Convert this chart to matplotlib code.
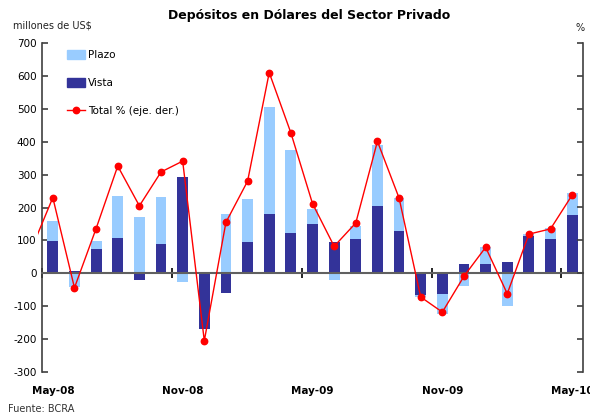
import numpy as np
import matplotlib
matplotlib.use("Agg")
import matplotlib.pyplot as plt
from matplotlib.patches import Patch
from matplotlib.lines import Line2D

months = ["May-08", "Jun-08", "Jul-08", "Aug-08", "Sep-08", "Oct-08", "Nov-08",
          "Dec-08", "Jan-09", "Feb-09", "Mar-09", "Apr-09", "May-09", "Jun-09",
          "Jul-09", "Aug-09", "Sep-09", "Oct-09", "Nov-09", "Dec-09", "Jan-10",
          "Feb-10", "Mar-10", "Apr-10", "May-10"]
# millones de US$
vista = [97, 8, 73, 106, -21, 88, 292, -170, -60, 95, 179, 121, 149, 94, 103,
         204, 128, -65, -64, 27, 27, 33, 112, 103, 176]
plazo = [63, -41, 24, 128, 170, 143, -26, 0, 179, 130, 326, 253, 45, -20, 40,
         185, 100, -7, -59, -38, 52, -99, 6, 34, 67]
# variacion total % (eje derecho), first value is Apr-08
total_pct = [0.72, 2.30, -0.44, 1.36, 3.26, 2.05, 3.08, 3.41, -2.05, 1.55, 2.80,
             6.10, 4.27, 2.12, 0.82, 1.53, 4.01, 2.29, -0.72, -1.18, -0.09, 0.79,
             -0.62, 1.19, 1.35, 2.38]

LIGHT = "#99ccff"
DARK = "#333399"
RED = "#ff0000"
AXC = "#404040"

plt.rcParams["font.family"] = ["DejaVu Sans"]
plt.rcParams["axes.unicode_minus"] = False

fig = plt.figure(figsize=(5.9, 4.16), dpi=100)
ax = fig.add_axes([38 / 590, 44 / 416, 545 / 590, 329 / 416])

x = np.arange(len(months))
vista_a = np.array(vista)
plazo_a = np.array(plazo)
bottom = np.where(np.sign(plazo_a) == np.sign(vista_a), vista_a, 0)

ax.bar(x, vista_a, width=0.5, color=DARK, zorder=2)
ax.bar(x, plazo_a, width=0.5, bottom=bottom, color=LIGHT, zorder=2)

ax.set_xlim(-0.685, 24.5)
ax.set_ylim(-300, 700)
ax.set_yticks(range(-300, 701, 100))
ax.tick_params(axis="y", direction="in", length=4, width=1.2, color=AXC,
               labelsize=7.5, pad=4)
for lab in ax.get_yticklabels():
    lab.set_fontweight("bold")

ax.spines["top"].set_visible(False)
ax.spines["right"].set_visible(False)
ax.spines["left"].set_position(("data", -0.5))
ax.spines["left"].set_color(AXC)
ax.spines["left"].set_linewidth(1.2)
ax.spines["bottom"].set_position(("data", 0))
ax.spines["bottom"].set_bounds(-0.5, 24.5)
ax.spines["bottom"].set_color("#606060")
ax.spines["bottom"].set_linewidth(1.5)

ax.set_xticks(x[::6])
ax.set_xticklabels(months[::6], fontweight="bold", fontsize=7.5)
ax.set_xticks(np.arange(-0.5, 25, 6), minor=True)
ax.tick_params(axis="x", which="major", length=0, pad=81)
ax.tick_params(axis="x", which="minor", direction="inout", length=7,
               width=1.2, color="black")

ax2 = ax.twinx()
ax2.set_ylim(-3, 7)
ax2.set_yticks(range(-3, 8))
ax2.tick_params(axis="y", direction="in", length=4, width=1.2, color=AXC,
                labelright=False)
for s in ["left", "top", "bottom"]:
    ax2.spines[s].set_visible(False)
ax2.spines["right"].set_color(AXC)
ax2.spines["right"].set_linewidth(1.2)
ax2.plot(np.arange(-1, len(months)), total_pct, color=RED, lw=1, marker="o",
         markersize=4.6, zorder=3)

handles = [Patch(color=LIGHT), Patch(color=DARK),
           Line2D([], [], color=RED, lw=1, marker="o", markersize=4.6)]
fig.legend(handles, ["Plazo", "Vista", "Total % (eje. der.)"],
           loc="upper left", bbox_to_anchor=(67 / 590, 1 - 50 / 416),
           frameon=False, fontsize=7.5, handlelength=1.75, handleheight=0.9,
           handletextpad=0.25, labelspacing=1.75, borderpad=0, borderaxespad=0)

fig.text(309 / 590, 1 - 16 / 416, "Depósitos en Dólares del Sector Privado",
         ha="center", va="center", fontsize=9, fontweight="bold")
fig.text(13 / 590, 1 - 25 / 416, "millones de US$", ha="left", va="center",
         fontsize=7, color="#222222")
fig.text(580 / 590, 1 - 28 / 416, "%", ha="center", va="center", fontsize=7,
         color="#222222")
fig.text(8 / 590, 1 - 409 / 416, "Fuente: BCRA", ha="left", va="center",
         fontsize=7, color="#333333")

fig.savefig("out.png", dpi=100)
